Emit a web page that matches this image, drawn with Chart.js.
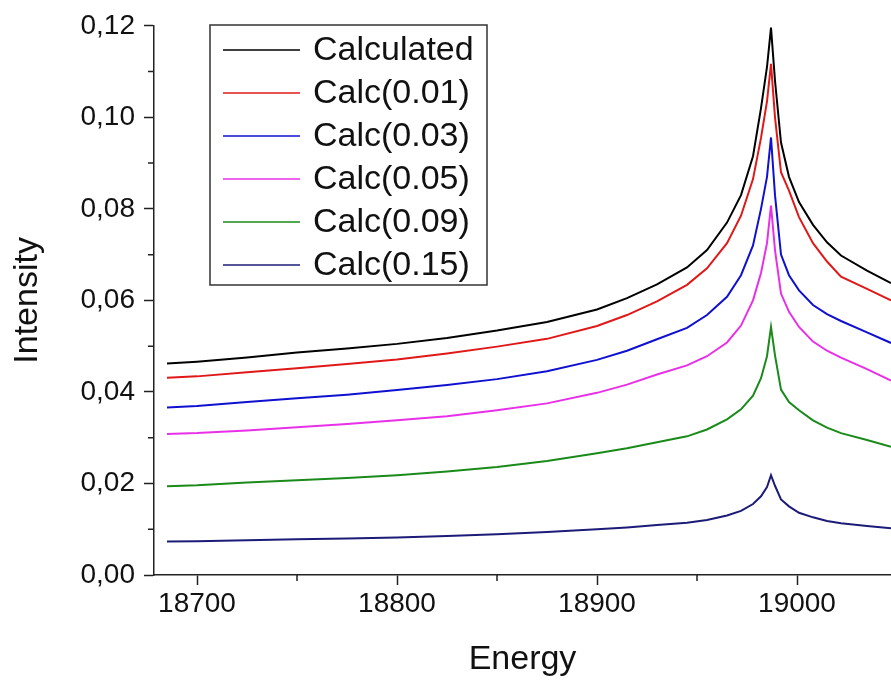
<!DOCTYPE html>
<html>
<head>
<meta charset="utf-8">
<script src="https://cdn.jsdelivr.net/npm/chart.js@4.4.1/dist/chart.umd.min.js"></script>
<style>
  html, body { margin: 0; padding: 0; background: #fff; }
  canvas { display: block; }
</style>
</head>
<body>
<canvas id="myChart" width="891" height="680"></canvas>
<script>
// energy grid (x values)
const energy = [18685, 18700, 18725, 18750, 18775, 18800, 18825, 18850, 18875, 18900,
  18915, 18930, 18945, 18955, 18965, 18972, 18978, 18982, 18985, 18987,
  18989, 18992, 18996, 19001, 19008, 19015, 19022, 19035, 19047];

const calculated = [0.0462, 0.0466, 0.0475, 0.0486, 0.0495, 0.0505, 0.0518, 0.0534, 0.0553, 0.0580,
  0.0605, 0.0635, 0.0672, 0.0710, 0.0770, 0.0830, 0.0915, 0.1020, 0.1110, 0.1196,
  0.1080, 0.0945, 0.0870, 0.0815, 0.0765, 0.0727, 0.0698, 0.0665, 0.0638];

const calc001 = [0.0431, 0.0434, 0.0443, 0.0452, 0.0461, 0.0471, 0.0484, 0.0499, 0.0516, 0.0544,
  0.0568, 0.0598, 0.0634, 0.0670, 0.0725, 0.0785, 0.0865, 0.0955, 0.1035, 0.1117,
  0.1000, 0.0880, 0.0840, 0.0782, 0.0725, 0.0685, 0.0652, 0.0625, 0.0600];

const calc003 = [0.0366, 0.0369, 0.0378, 0.0386, 0.0394, 0.0404, 0.0415, 0.0428, 0.0445, 0.0470,
  0.0490, 0.0515, 0.0540, 0.0568, 0.0608, 0.0655, 0.0720, 0.0800, 0.0870, 0.0956,
  0.0830, 0.0700, 0.0655, 0.0622, 0.0590, 0.0570, 0.0555, 0.0530, 0.0507];

const calc005 = [0.0308, 0.0310, 0.0316, 0.0323, 0.0330, 0.0338, 0.0347, 0.0360, 0.0375, 0.0398,
  0.0416, 0.0438, 0.0458, 0.0478, 0.0508, 0.0545, 0.0600, 0.0660, 0.0725, 0.0807,
  0.0710, 0.0615, 0.0575, 0.0542, 0.0510, 0.0490, 0.0475, 0.0450, 0.0425];

const calc009 = [0.0194, 0.0196, 0.0202, 0.0207, 0.0212, 0.0218, 0.0226, 0.0236, 0.0249, 0.0266,
  0.0277, 0.0290, 0.0303, 0.0318, 0.0340, 0.0362, 0.0392, 0.0430, 0.0478, 0.0542,
  0.0480, 0.0405, 0.0378, 0.0360, 0.0338, 0.0322, 0.0310, 0.0295, 0.0280];

const calc015 = [0.0073, 0.0074, 0.0076, 0.0078, 0.0080, 0.0082, 0.0085, 0.0089, 0.0094, 0.0100,
  0.0104, 0.0109, 0.0114, 0.0120, 0.0130, 0.0140, 0.0155, 0.0172, 0.0192, 0.0218,
  0.0195, 0.0165, 0.0150, 0.0136, 0.0126, 0.0118, 0.0113, 0.0107, 0.0102];

const seriesLabels = ["Calculated", "Calc(0.01)", "Calc(0.03)", "Calc(0.05)", "Calc(0.09)", "Calc(0.15)"];
const seriesValues = [calculated, calc001, calc003, calc005, calc009, calc015];
const seriesColors = ["#000000", "#e01818", "#1010d0", "#e830e8", "#1a8a1a", "#1c1c78"];

// minor tick positions (no label, shorter tick)
const xMinorTicks = [18750, 18850, 18950];
const yMinorTicks = [0.01, 0.03, 0.05, 0.07, 0.09, 0.11];

const FONT = "'Liberation Sans', Arial, sans-serif";

function toPoints(ys) {
  return energy.map((e, i) => ({ x: e, y: ys[i] }));
}

// legend drawn as a framed box inside the plot, like the original
const boxLegend = {
  id: 'boxLegend',
  afterDraw(chart) {
    const ctx = chart.ctx;
    ctx.save();
    ctx.strokeStyle = '#333';
    ctx.lineWidth = 1.5;
    ctx.strokeRect(210, 25, 277, 260);
    ctx.font = '34px ' + FONT;
    ctx.textBaseline = 'middle';
    ctx.fillStyle = '#111';
    chart.data.datasets.forEach((ds, i) => {
      const y = 50 + i * 43;
      ctx.strokeStyle = ds.borderColor;
      ctx.lineWidth = 1.5;
      ctx.beginPath();
      ctx.moveTo(223, y);
      ctx.lineTo(300, y);
      ctx.stroke();
      ctx.fillText(ds.label, 313, y + 1);
    });
    ctx.restore();
  }
};

// short minor ticks, outward like the major ones
const minorTicks = {
  id: 'minorTicks',
  afterDraw(chart) {
    const ctx = chart.ctx;
    const xs = chart.scales.x, ys = chart.scales.y;
    const area = chart.chartArea;
    ctx.save();
    ctx.strokeStyle = '#222';
    ctx.lineWidth = 1.5;
    ctx.beginPath();
    xMinorTicks.forEach(v => {
      const px = xs.getPixelForValue(v);
      ctx.moveTo(px, area.bottom);
      ctx.lineTo(px, area.bottom + 6);
    });
    yMinorTicks.forEach(v => {
      const py = ys.getPixelForValue(v);
      ctx.moveTo(area.left, py);
      ctx.lineTo(area.left - 6, py);
    });
    ctx.stroke();
    ctx.restore();
  }
};

new Chart(document.getElementById('myChart'), {
  type: 'line',
  data: {
    datasets: seriesLabels.map((lbl, i) => ({
      label: lbl,
      data: toPoints(seriesValues[i]),
      borderColor: seriesColors[i],
      borderWidth: 2,
      pointRadius: 0,
      tension: 0,
      fill: false
    }))
  },
  options: {
    responsive: false,
    animation: false,
    layout: { padding: { top: 25, right: 0, left: 0, bottom: 0 } },
    plugins: {
      legend: { display: false },
      tooltip: { enabled: false }
    },
    scales: {
      x: {
        type: 'linear',
        min: 18678.5,
        max: 19047,
        afterFit(scale) { scale.height = 105; },
        border: { display: true, color: '#222', width: 1.5 },
        grid: { drawOnChartArea: false, drawTicks: true, tickLength: 10, tickColor: '#222', tickWidth: 1.5 },
        ticks: {
          stepSize: 100,
          includeBounds: false,
          autoSkip: false,
          maxRotation: 0,
          padding: 2,
          color: '#111',
          font: { size: 28, family: FONT },
          callback: (v) => String(Math.round(v))
        },
        title: {
          display: true,
          text: 'Energy',
          color: '#111',
          font: { size: 34, family: FONT },
          padding: { top: 0, bottom: 0 }
        }
      },
      y: {
        min: 0,
        max: 0.12,
        afterFit(scale) { scale.width = 154; },
        border: { display: true, color: '#222', width: 1.5 },
        grid: { drawOnChartArea: false, drawTicks: true, tickLength: 10, tickColor: '#222', tickWidth: 1.5 },
        ticks: {
          stepSize: 0.02,
          autoSkip: false,
          padding: 9,
          color: '#111',
          font: { size: 28, family: FONT },
          callback: (v) => v.toFixed(2).replace('.', ',')
        },
        title: {
          display: true,
          text: 'Intensity',
          color: '#111',
          font: { size: 34, family: FONT },
          padding: { top: 7, bottom: 0 }
        }
      }
    }
  },
  plugins: [boxLegend, minorTicks]
});
</script>
</body>
</html>
